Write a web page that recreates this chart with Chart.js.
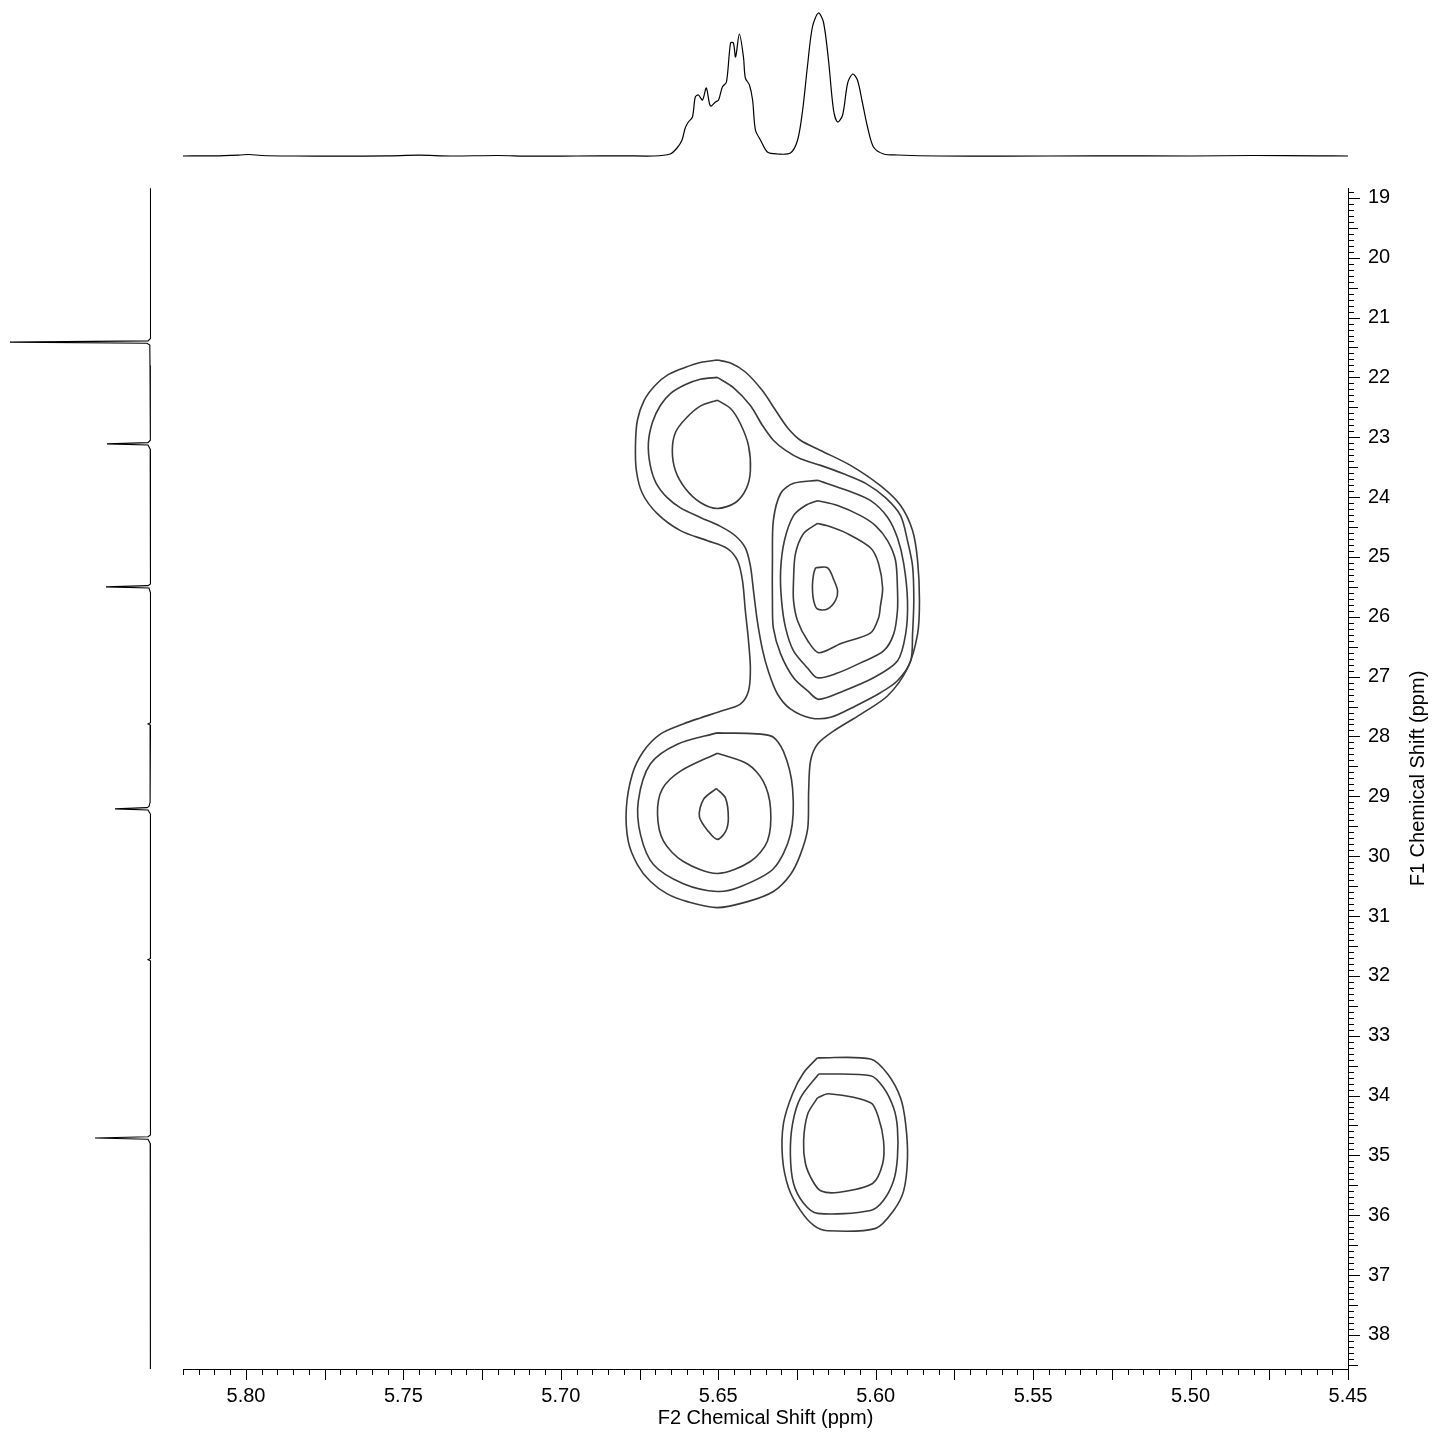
<!DOCTYPE html>
<html>
<head>
<meta charset="utf-8">
<script src="https://cdn.jsdelivr.net/npm/chart.js@4.4.1/dist/chart.umd.min.js"></script>
<style>
    html, body { margin: 0; padding: 0; background: #ffffff; }
    #wrap { position: relative; width: 1433px; height: 1433px; }
    #wrap canvas { position: absolute; left: 0; top: 0; }
</style>
</head>
<body>
<div id="wrap">
    <canvas id="hsqcChart" width="1433" height="1433"></canvas>
    <canvas id="f2Chart" width="1433" height="1433"></canvas>
    <canvas id="f1Chart" width="1433" height="1433"></canvas>
</div>
<script>
// axis ranges (ppm)
const f2Range = [5.45, 5.82];
const f1Range = [18.835, 38.57];
const xTickLabels = [5.80, 5.75, 5.70, 5.65, 5.60, 5.55, 5.50, 5.45];
const yTickLabels = [19, 20, 21, 22, 23, 24, 25, 26, 27, 28, 29, 30, 31, 32, 33, 34, 35, 36, 37, 38];
const xMinorStep = 0.005;
const yMinorStep = 0.1;

// F2 projection (top 1D spectrum)
const topPpm = [5.8200, 5.8100, 5.8020, 5.7990, 5.7950, 5.7850, 5.7700, 5.7550, 5.7450, 5.7350, 5.7200, 5.7100, 5.6950, 5.6800,
    5.6706, 5.6653, 5.6631, 5.6615, 5.6605, 5.6595, 5.6582, 5.6573, 5.6563, 5.6550, 5.6538, 5.6525, 5.6509, 5.6499, 5.6487,
    5.6474, 5.6461, 5.6452, 5.6445, 5.6433, 5.6420, 5.6414, 5.6401, 5.6391, 5.6382, 5.6366, 5.6344, 5.6312, 5.6271, 5.6248,
    5.6232, 5.6217, 5.6201, 5.6182, 5.6166, 5.6150, 5.6134, 5.6121, 5.6105, 5.6089, 5.6073, 5.6058, 5.6042, 5.6026, 5.6007,
    5.5975, 5.5930, 5.5800, 5.5600, 5.5300, 5.5000, 5.4800, 5.4600, 5.4500];
const topIntensity = [1.0, 1.2, 2.0, 2.5, 1.5, 1.0, 0.8, 1.2, 1.8, 1.0, 1.5, 0.8, 1.0, 1.2,
    1, 3, 9, 17, 29, 35, 40, 60, 62, 57, 69, 51, 55, 57, 70,
    75, 114, 114, 100, 123, 100, 79, 72, 57, 27, 17, 5, 3, 4, 17,
    47, 90, 130, 144, 135, 97, 47, 35, 42, 74, 83, 77, 54, 30, 10,
    3, 2, 1.0, 0.8, 1.2, 1.0, 1.5, 1.2, 1.0];

// F1 projection (left 1D spectrum)
const leftPpm = [18.84, 19.5, 20.5, 21.35, 21.39, 21.41, 21.43, 21.46, 21.8, 22.5, 23.05, 23.09, 23.11, 23.13, 23.2, 24.2,
    25.45, 25.48, 25.50, 25.52, 25.6, 26.6, 27.77, 27.79, 27.81, 28.5, 29.1, 29.17, 29.19, 29.21, 29.23, 29.3, 30.5,
    31.71, 31.73, 31.75, 33.0, 34.66, 34.69, 34.71, 34.73, 34.8, 36.0, 37.5, 38.57];
const leftIntensity = [0.5, 0.3, 0.6, 0.5, 3, 141, 4, 1.2, 1, 0.8, 0.5, 3, 44, 3, 0.8, 0.6,
    0.5, 3, 45, 2, 0.5, 0.5, 0.5, 3, 0.5, 0.8, 1, 2, 4, 36, 3, 0.5, 0.6,
    0.5, 3, 0.5, 0.6, 0.5, 3, 56, 3, 0.8, 0.6, 0.7, 0.5];

// contour levels, [F2 ppm, F1 ppm]
const contourOuter = [[5.6503, 21.71], [5.6557, 21.75], [5.6604, 21.83], [5.6658, 21.95], [5.6700, 22.13], [5.6735, 22.38],
    [5.6757, 22.72], [5.6763, 23.14], [5.6760, 23.56], [5.6741, 23.94], [5.6693, 24.28], [5.6620, 24.56], [5.6534, 24.73],
    [5.6471, 24.86], [5.6439, 25.06], [5.6423, 25.40], [5.6414, 25.90], [5.6404, 26.40], [5.6398, 26.87], [5.6404, 27.24],
    [5.6430, 27.46], [5.6493, 27.58], [5.6557, 27.69], [5.6611, 27.79], [5.6684, 27.96], [5.6738, 28.25], [5.6773, 28.63],
    [5.6792, 29.20], [5.6786, 29.75], [5.6757, 30.14], [5.6716, 30.42], [5.6662, 30.63], [5.6598, 30.76], [5.6503, 30.86],
    [5.6407, 30.76], [5.6325, 30.59], [5.6271, 30.31], [5.6239, 29.97], [5.6216, 29.54], [5.6213, 28.92], [5.6207, 28.41],
    [5.6185, 28.13], [5.6134, 27.91], [5.6048, 27.63], [5.5962, 27.32], [5.5899, 26.86], [5.5867, 26.29], [5.5861, 25.73],
    [5.5867, 25.06], [5.5883, 24.56], [5.5921, 24.14], [5.5985, 23.81], [5.6080, 23.47], [5.6175, 23.22], [5.6239, 23.05],
    [5.6280, 22.84], [5.6318, 22.55], [5.6360, 22.22], [5.6414, 21.91], [5.6461, 21.76]];
const contourUpper = [[5.6503, 22.00], [5.6557, 22.03], [5.6604, 22.12], [5.6652, 22.27], [5.6684, 22.47], [5.6709, 22.75],
    [5.6722, 23.10], [5.6716, 23.47], [5.6697, 23.77], [5.6662, 24.01], [5.6620, 24.18], [5.6557, 24.34], [5.6493, 24.49],
    [5.6445, 24.65], [5.6414, 24.85], [5.6398, 25.15], [5.6388, 25.57], [5.6376, 26.07], [5.6360, 26.54], [5.6341, 26.91],
    [5.6312, 27.29], [5.6271, 27.54], [5.6207, 27.69], [5.6143, 27.68], [5.6064, 27.49], [5.5985, 27.27], [5.5931, 27.07],
    [5.5889, 26.74], [5.5883, 26.29], [5.5879, 25.73], [5.5883, 25.15], [5.5899, 24.73], [5.5921, 24.31], [5.5969, 24.01],
    [5.6032, 23.77], [5.6102, 23.61], [5.6175, 23.47], [5.6239, 23.36], [5.6286, 23.22], [5.6325, 23.05], [5.6360, 22.80],
    [5.6398, 22.47], [5.6452, 22.17]];
const contourTopLeft = [[5.6503, 22.38], [5.6461, 22.52], [5.6430, 22.77], [5.6404, 23.14], [5.6398, 23.56], [5.6411, 23.86],
    [5.6445, 24.09], [5.6503, 24.19], [5.6557, 24.09], [5.6604, 23.86], [5.6636, 23.56], [5.6646, 23.22], [5.6636, 22.92],
    [5.6604, 22.69], [5.6557, 22.48]];
const contourMid3 = [[5.6185, 23.72], [5.6090, 23.89], [5.6016, 24.06], [5.5962, 24.34], [5.5931, 24.68], [5.5911, 25.11],
    [5.5899, 25.73], [5.5905, 26.29], [5.5931, 26.74], [5.6007, 27.02], [5.6102, 27.24], [5.6181, 27.38], [5.6216, 27.24],
    [5.6261, 27.02], [5.6302, 26.62], [5.6325, 26.19], [5.6328, 25.73], [5.6328, 25.06], [5.6325, 24.39], [5.6302, 23.94],
    [5.6261, 23.77]];
const contourMid4 = [[5.6185, 24.06], [5.6121, 24.14], [5.6048, 24.31], [5.6000, 24.48], [5.5962, 24.73], [5.5937, 25.06],
    [5.5931, 25.52], [5.5931, 25.90], [5.5943, 26.29], [5.5975, 26.57], [5.6048, 26.77], [5.6121, 26.94], [5.6185, 27.02],
    [5.6216, 26.86], [5.6261, 26.57], [5.6286, 26.19], [5.6299, 25.73], [5.6302, 25.23], [5.6290, 24.73], [5.6261, 24.31],
    [5.6223, 24.14]];
const contourMid5 = [[5.6185, 24.44], [5.6153, 24.48], [5.6090, 24.61], [5.6016, 24.85], [5.5991, 25.11], [5.5978, 25.52],
    [5.5985, 25.82], [5.5991, 26.02], [5.6016, 26.27], [5.6112, 26.45], [5.6181, 26.60], [5.6216, 26.40], [5.6248, 26.07],
    [5.6261, 25.73], [5.6261, 25.40], [5.6255, 24.95], [5.6229, 24.61]];
const contourMid6 = [[5.6191, 25.18], [5.6153, 25.18], [5.6134, 25.37], [5.6121, 25.57], [5.6128, 25.73], [5.6153, 25.87],
    [5.6185, 25.87], [5.6197, 25.73], [5.6201, 25.48], [5.6197, 25.28]];
const contourLow2 = [[5.6503, 27.94], [5.6334, 27.99], [5.6293, 28.25], [5.6264, 28.87], [5.6271, 29.64], [5.6325, 30.21],
    [5.6430, 30.51], [5.6503, 30.59], [5.6611, 30.46], [5.6706, 30.14], [5.6747, 29.64], [5.6754, 29.08], [5.6716, 28.46],
    [5.6630, 28.13]];
const contourLow3 = [[5.6503, 28.28], [5.6407, 28.46], [5.6357, 28.75], [5.6334, 29.20], [5.6344, 29.75], [5.6398, 30.09],
    [5.6503, 30.29], [5.6611, 30.09], [5.6674, 29.75], [5.6693, 29.30], [5.6678, 28.88], [5.6620, 28.58]];
const contourLow4 = [[5.6506, 28.87], [5.6477, 29.03], [5.6468, 29.37], [5.6477, 29.59], [5.6503, 29.72], [5.6531, 29.59],
    [5.6560, 29.34], [5.6547, 29.05]];
const contourBottom1 = [[5.6185, 33.37], [5.6016, 33.39], [5.5962, 33.64], [5.5921, 34.04], [5.5905, 34.47], [5.5899, 35.04],
    [5.5911, 35.59], [5.5943, 35.92], [5.6000, 36.22], [5.6153, 36.26], [5.6197, 36.17], [5.6239, 35.92], [5.6277, 35.54],
    [5.6296, 35.04], [5.6293, 34.47], [5.6264, 33.97], [5.6229, 33.62]];
const contourBottom2 = [[5.6181, 33.64], [5.6016, 33.67], [5.5975, 33.87], [5.5943, 34.21], [5.5931, 34.54], [5.5931, 35.04],
    [5.5943, 35.42], [5.5975, 35.75], [5.6016, 35.92], [5.6185, 35.97], [5.6229, 35.80], [5.6261, 35.47], [5.6271, 34.98],
    [5.6264, 34.47], [5.6239, 34.04]];
const contourBottom3 = [[5.6185, 34.04], [5.6150, 33.97], [5.6016, 34.12], [5.5991, 34.37], [5.5975, 34.76], [5.5978, 35.14],
    [5.6010, 35.47], [5.6121, 35.62], [5.6175, 35.59], [5.6201, 35.42], [5.6223, 35.14], [5.6229, 34.76], [5.6216, 34.31]];

const contours = [contourOuter, contourUpper, contourTopLeft, contourMid3, contourMid4, contourMid5, contourMid6,
    contourLow2, contourLow3, contourLow4, contourBottom1, contourBottom2, contourBottom3];

const FONT = "'Liberation Sans', Arial, sans-serif";

function closeLoop(points) {
    const pts = points.map(p => ({ x: p[0], y: p[1] }));
    pts.push({ x: points[0][0], y: points[0][1] });
    return pts;
}

// minor / major tick marks and the F1 title
const axisTicks = {
    id: 'axisTicks',
    afterDraw(chart) {
        const { ctx, chartArea, scales: { x, y } } = chart;
        ctx.save();
        ctx.strokeStyle = '#000000';
        ctx.lineWidth = 1;
        ctx.beginPath();

        const i0 = Math.ceil(f2Range[0] / xMinorStep - 1e-6);
        const i1 = Math.floor(f2Range[1] / xMinorStep + 1e-6);
        for (let i = i0; i <= i1; i++) {
            const px = Math.round(x.getPixelForValue(i * xMinorStep)) + 0.5;
            const len = i % 5 === 0 ? 11 : 6;
            ctx.moveTo(px, chartArea.bottom);
            ctx.lineTo(px, chartArea.bottom + len);
        }

        const j0 = Math.ceil(f1Range[0] / yMinorStep - 1e-6);
        const j1 = Math.floor(f1Range[1] / yMinorStep + 1e-6);
        for (let j = j0; j <= j1; j++) {
            const py = Math.round(y.getPixelForValue(j * yMinorStep)) + 0.5;
            const len = j % 10 === 0 ? 12 : (j % 5 === 0 ? 10 : 6);
            ctx.moveTo(chartArea.right, py);
            ctx.lineTo(chartArea.right + len, py);
        }
        ctx.stroke();

        ctx.fillStyle = '#000000';
        ctx.font = '20px ' + FONT;
        ctx.textAlign = 'center';
        ctx.textBaseline = 'middle';
        ctx.translate(chartArea.right + 70, (chartArea.top + chartArea.bottom) / 2);
        ctx.rotate(-Math.PI / 2);
        ctx.fillText('F1 Chemical Shift (ppm)', 0, 0);
        ctx.restore();
    }
};

const hsqcCtx = document.getElementById('hsqcChart').getContext('2d');
new Chart(hsqcCtx, {
    type: 'scatter',
    data: {
        datasets: contours.map(c => ({
            data: closeLoop(c),
            showLine: true,
            borderColor: '#3a3a3a',
            borderWidth: 1.6,
            pointRadius: 0,
            tension: 0.3,
            fill: false
        }))
    },
    options: {
        responsive: false,
        animation: false,
        events: [],
        layout: { padding: { left: 183, top: 188, right: 0, bottom: 0 } },
        plugins: { legend: { display: false }, tooltip: { enabled: false } },
        scales: {
            x: {
                type: 'linear',
                position: 'bottom',
                reverse: true,
                min: f2Range[0],
                max: f2Range[1],
                afterBuildTicks: function (scale) {
                    scale.ticks = xTickLabels.map(v => ({ value: v }));
                },
                afterFit: function (scale) {
                    scale.height = 64;
                },
                grid: { display: false, drawTicks: false },
                border: { display: true, color: '#000000', width: 1 },
                ticks: {
                    color: '#000000',
                    padding: 15,
                    maxRotation: 0,
                    autoSkip: false,
                    font: { size: 20, family: FONT },
                    callback: function (value) {
                        return Number(value).toFixed(2);
                    }
                },
                title: {
                    display: true,
                    text: 'F2 Chemical Shift (ppm)',
                    color: '#000000',
                    font: { size: 20, family: FONT },
                    padding: { top: 0, bottom: 3 }
                }
            },
            y: {
                type: 'linear',
                position: 'right',
                reverse: true,
                min: f1Range[0],
                max: f1Range[1],
                afterBuildTicks: function (scale) {
                    scale.ticks = yTickLabels.map(v => ({ value: v }));
                },
                afterFit: function (scale) {
                    scale.width = 85;
                },
                grid: { display: false, drawTicks: false },
                border: { display: true, color: '#000000', width: 1 },
                ticks: {
                    color: '#000000',
                    padding: 20,
                    autoSkip: false,
                    font: { size: 20, family: FONT },
                    callback: function (value) {
                        return String(value);
                    }
                }
            }
        }
    },
    plugins: [axisTicks]
});

// top projection
const f2Ctx = document.getElementById('f2Chart').getContext('2d');
new Chart(f2Ctx, {
    type: 'scatter',
    data: {
        datasets: [{
            data: topPpm.map((p, i) => ({ x: p, y: topIntensity[i] })),
            showLine: true,
            borderColor: '#000000',
            borderWidth: 1.2,
            pointRadius: 0,
            tension: 0.3
        }]
    },
    options: {
        responsive: false,
        animation: false,
        events: [],
        layout: { padding: { left: 183, right: 85, top: 0, bottom: 1276 } },
        plugins: { legend: { display: false }, tooltip: { enabled: false } },
        scales: {
            x: { type: 'linear', display: false, reverse: true, min: f2Range[0], max: f2Range[1] },
            y: { type: 'linear', display: false, min: 0, max: 157 }
        }
    }
});

// left projection
const f1Ctx = document.getElementById('f1Chart').getContext('2d');
new Chart(f1Ctx, {
    type: 'scatter',
    data: {
        datasets: [{
            data: leftPpm.map((p, i) => ({ x: leftIntensity[i], y: p })),
            showLine: true,
            borderColor: '#000000',
            borderWidth: 1.1,
            pointRadius: 0,
            tension: 0
        }]
    },
    options: {
        responsive: false,
        animation: false,
        events: [],
        layout: { padding: { left: 0, right: 1282, top: 188, bottom: 64 } },
        plugins: { legend: { display: false }, tooltip: { enabled: false } },
        scales: {
            x: { type: 'linear', display: false, reverse: true, min: 0, max: 151 },
            y: { type: 'linear', display: false, reverse: true, min: f1Range[0], max: f1Range[1] }
        }
    }
});
</script>
</body>
</html>
